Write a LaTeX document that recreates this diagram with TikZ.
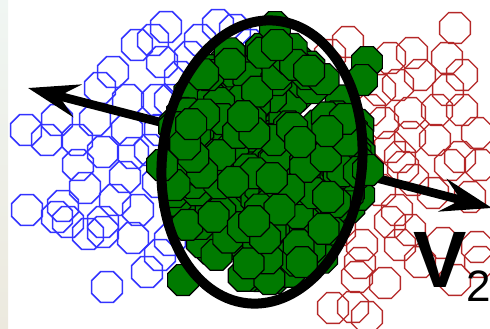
\documentclass[tikz,border=0pt]{standalone}
\usepackage{fontspec}
\setmainfont{Liberation Sans}
\usetikzlibrary{shapes.geometric,arrows.meta}
\definecolor{octblue}{RGB}{51,51,255}
\definecolor{octred}{RGB}{180,40,40}
\definecolor{octgreen}{RGB}{0,122,0}
\definecolor{stripetop}{RGB}{240,246,243}
\definecolor{stripebot}{RGB}{236,233,222}
\begin{document}
\begin{tikzpicture}[
  x=0.75pt, y=-0.75pt,
  oct/.style={regular polygon, regular polygon sides=8, minimum size=25pt, inner sep=0pt},
  bcell/.style={oct, draw=octblue, line width=1.1pt},
  rcell/.style={oct, draw=octred, line width=1pt},
  gcell/.style={oct, draw=black, fill=octgreen, line width=0.9pt},
  axis/.style={line width=6.5pt, {Stealth[length=38pt,width=25pt,inset=14pt]}-{Stealth[length=38pt,width=25pt,inset=14pt]}},
  vlabel/.style={inner sep=0pt, font=\fontsize{60}{66}\selectfont}
]
\useasboundingbox (0,0) rectangle (490,329);
\shade[top color=stripetop, bottom color=stripebot] (0,0) rectangle (8,329);

% blue class
\foreach \x/\y [count=\k] in {26/130,57/120,47/140,77/140,95/120,100/88,113/72,128/100,157/100,
  137/45,153/40,166/27,162/62,218/25,190/57,180/77,127/130,103/152,133/153,78/165,160/130,
  27/210,57/217,63/206,68/222,88/234,103/222,103/232,85/188,125/177,138/210,133/238,147/272,
  107/287,115/200,158/182,150/150,170/100,200/40,235/30,250/45,185/120,175/150,180/210,170/240,160/255}
  \node[bcell] (b\k) at (\x,\y) {};

% red class
\foreach \x/\y [count=\k] in {455/28,348/42,330/55,390/58,412/53,447/58,462/75,398/85,420/75,448/90,
  437/110,462/110,410/113,383/123,477/133,435/140,410/137,390/147,370/110,400/157,460/157,
  403/167,450/165,480/165,433/193,470/197,413/180,397/210,390/222,362/245,400/245,443/243,
  477/247,480/262,357/277,385/283,360/263,420/262,333/308,353/307,367/317,380/190,350/200,
  340/230,350/150,380/90,410/230,455/280}
  \node[rcell] (r\k) at (\x,\y) {};

\coordinate (vleft) at (28,88);
\coordinate (vright) at (492,208);
\draw[axis] (vleft) -- (vright);

% green class
\pgfmathsetseed{11}
\foreach \k in {1,...,300}{
  \pgfmathsetmacro{\rr}{sqrt(rnd)}
  \pgfmathsetmacro{\aa}{360*rnd}
  \node[gcell] (g\k) at ({266+98*\rr*cos(\aa)},{160+120*\rr*sin(\aa)}) {};
}
\node[gcell] (gtop) at (275,27) {};
\node[gcell] (gtop2) at (277,45) {};
\node[gcell] (gne) at (367,62) {};
\node[gcell] (gne2) at (362,80) {};
\node[gcell] (geast) at (368,170) {};
\node[gcell] (gsw) at (183,280) {};
\node[gcell] (gw) at (162,165) {};

\draw[line width=7.5pt, rotate around={-6:(262,162)}] (262,162) ellipse [x radius=100, y radius=142];

\node[vlabel, anchor=base west] (vtwo) at (413,287)
  {\textbf{V}\raisebox{-11pt}{\fontsize{33}{38}\selectfont 2}};
\end{tikzpicture}
\end{document}
